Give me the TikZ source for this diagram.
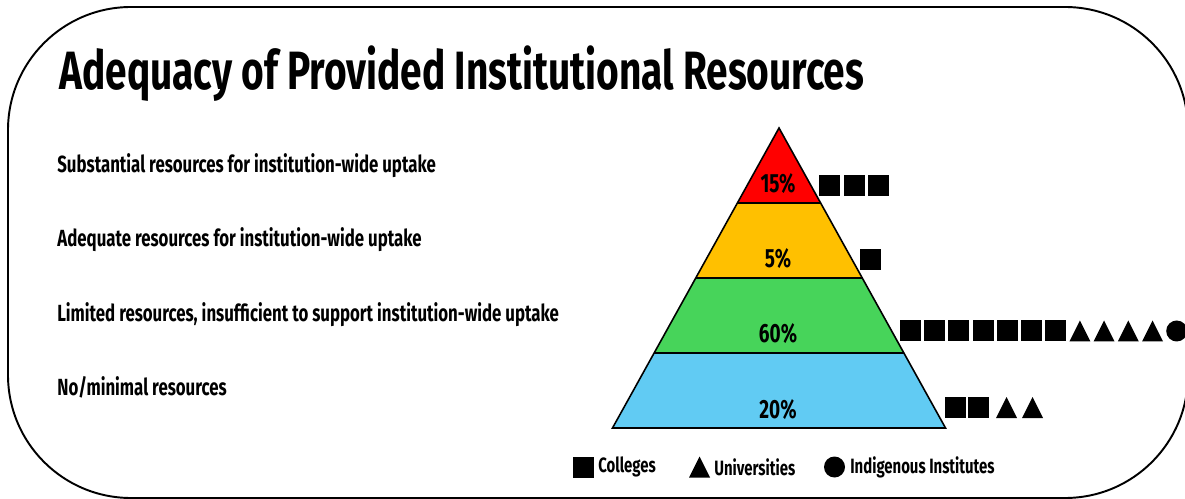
\documentclass[tikz,border=0pt]{standalone}
\usepackage{fontspec}
\setmainfont{Fira Sans}[FakeStretch=0.72,UprightFont=* Bold]
\usetikzlibrary{shapes.geometric}
\definecolor{bandred}{HTML}{FF0000}
\definecolor{bandamber}{HTML}{FFC000}
\definecolor{bandgreen}{HTML}{47D45A}
\definecolor{bandblue}{HTML}{61CBF3}
\tikzset{
  ttl/.style={anchor=base west,inner sep=0pt,font=\fontsize{30.7}{34}\selectfont},
  lbl/.style={anchor=base west,inner sep=0pt,font=\fontsize{13.3}{15}\selectfont},
  pct/.style={anchor=base,inner sep=0pt,font=\fontsize{15}{17}\selectfont},
  leg/.style={anchor=west,inner sep=0pt,font=\fontsize{11.8}{13}\selectfont},
  band/.style={draw=black,line width=0.9pt,line join=miter},
}
\newcommand{\msq}[2]{\fill (#1,#2) rectangle ++(21,21);}
\newcommand{\mtri}[2]{\fill (#1,#2+21) -- (#1+10.5,#2) -- (#1+21,#2+21) -- cycle;}
\newcommand{\mcirc}[2]{\fill (#1+10.5,#2+10.5) circle[radius=10.5];}
\begin{document}
\begin{tikzpicture}[x=0.02cm,y=-0.02cm]
\useasboundingbox (0,0) rectangle (1185,499);
\begin{scope}
\clip (0,0) rectangle (1185,499);
\draw[line width=1.1pt,rounded corners=70] (8,7) rectangle (1188,498);
\end{scope}
% title and labels
\node[ttl] (title) at (59,90) {Adequacy of Provided Institutional Resources};
\node[lbl] (l1) at (57,172.5) {Substantial resources for institution-wide uptake};
\node[lbl] (l2) at (57,246.5) {Adequate resources for institution-wide uptake};
\node[lbl] (l3) at (57,321.5) {Limited resources, insufficient to support institution-wide uptake};
\node[lbl] (l4) at (57,396) {No/minimal resources};
% pyramid: apex (779,128), base y 428, half width 166.5
\coordinate (apex) at (779,128);
\coordinate (b1l) at (737.3,203); \coordinate (b1r) at (820.7,203);
\coordinate (b2l) at (695.7,278); \coordinate (b2r) at (862.3,278);
\coordinate (b3l) at (654.1,353); \coordinate (b3r) at (903.9,353);
\coordinate (b4l) at (612.5,428); \coordinate (b4r) at (945.5,428);
\fill[bandblue] (b3l) -- (b3r) -- (b4r) -- (b4l) -- cycle;
\fill[bandgreen] (b2l) -- (b2r) -- (b3r) -- (b3l) -- cycle;
\fill[bandamber] (b1l) -- (b1r) -- (b2r) -- (b2l) -- cycle;
\fill[bandred] (apex) -- (b1r) -- (b1l) -- cycle;
\draw[band] (apex) -- (b4r) -- (b4l) -- cycle;
\draw[band] (b1l) -- (b1r) (b2l) -- (b2r) (b3l) -- (b3r);
\node[pct] (p1) at (778,193) {15\%};
\node[pct] (p2) at (778,268) {5\%};
\node[pct] (p3) at (778,343) {60\%};
\node[pct] (p4) at (778,418) {20\%};
% markers
\foreach \i in {0,1,2} {\msq{819+24.5*\i}{175.5}}
\msq{860}{249.5}
\foreach \i in {0,...,6} {\msq{900+24.2*\i}{320.5}}
\foreach \i in {7,...,10} {\mtri{900+24.2*\i}{320.5}}
\mcirc{900+24.2*11}{320.5}
\msq{945}{397}
\msq{968}{397}
\mtri{996}{397}
\mtri{1022}{397}
% legend
\msq{573}{456.5}
\node[leg] (lc) at (598,467) {Colleges};
\mtri{689}{456.5}
\node[leg] (lu) at (714,467) {Universities};
\mcirc{824}{456.5}
\node[leg] (li) at (850,467) {Indigenous Institutes};
\end{tikzpicture}
\end{document}
